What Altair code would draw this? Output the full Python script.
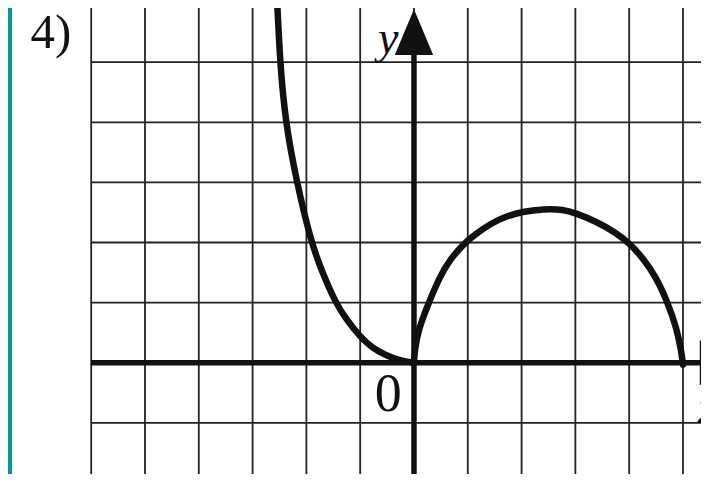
import altair as alt
import pandas as pd

TEAL = "#00999a"
INK = "#111111"
GRID = "#222222"
FONT = "Liberation Serif"

# grid lines (one unit per cell)
grid_x = [-6, -5, -4, -3, -2, -1, 0, 1, 2, 3, 4, 5]
grid_y = [-2, -1, 0, 1, 2, 3, 4, 5]

# left branch (top to origin)
left_x = [-2.56, -2.535, -2.49, -2.39, -2.18, -1.91, -1.72, -1.46, -1.25,
          -1.0, -0.78, -0.54, -0.25, 0.0]
left_y = [6.2, 5.89, 5.0, 4.0, 3.0, 2.0, 1.54, 1.0, 0.71,
          0.43, 0.25, 0.13, 0.03, 0.0]

# right arch (origin to x = 5)
right_x = [0.0, 0.0, 0.01, 0.08, 0.27, 0.48, 0.66, 0.95, 1.13, 1.43, 1.73, 2.0, 2.41, 2.78, 3.0,
           3.39, 3.76, 4.0, 4.26, 4.51, 4.72, 4.88, 4.97, 5.0, 5.0]
right_y = [0.0, 0.0, 0.18, 0.55, 0.99, 1.43, 1.71, 2.0, 2.13, 2.32, 2.44, 2.51, 2.56, 2.55, 2.49,
           2.35, 2.16, 1.99, 1.74, 1.41, 0.99, 0.58, 0.19, -0.03, -0.03]

XMIN, XMAX = -7.472, 5.335
YMIN, YMAX = -1.852, 5.902

xs = alt.Scale(domain=[XMIN, XMAX], nice=False, zero=False)
ys = alt.Scale(domain=[YMIN, YMAX], nice=False, zero=False)

def X(field="x"):
    return alt.X(f"{field}:Q", scale=xs, axis=None)

def Y(field="y"):
    return alt.Y(f"{field}:Q", scale=ys, axis=None)

vgrid = pd.DataFrame({"x": grid_x, "y": [-2.5] * len(grid_x), "y2": [6.5] * len(grid_x)})
hgrid = pd.DataFrame({"y": grid_y, "x": [-6] * len(grid_y), "x2": [6.5] * len(grid_y)})

vlines = alt.Chart(vgrid).mark_rule(color=GRID, strokeWidth=1.8, clip=True).encode(
    x=X(), y=Y(), y2="y2:Q")
hlines = alt.Chart(hgrid).mark_rule(color=GRID, strokeWidth=1.8, clip=True).encode(
    y=Y(), x=X(), x2="x2:Q")

xaxis = alt.Chart(pd.DataFrame({"x": [-6], "x2": [5.6], "y": [0]})).mark_rule(
    color=INK, strokeWidth=5.5, clip=True).encode(x=X(), x2="x2:Q", y=Y())
yaxis = alt.Chart(pd.DataFrame({"x": [0], "y": [-2.5], "y2": [5.45]})).mark_rule(
    color=INK, strokeWidth=5.5, clip=True).encode(x=X(), y=Y(), y2="y2:Q")

left = pd.DataFrame({"x": left_x, "y": left_y, "i": range(len(left_x))})
right = pd.DataFrame({"x": right_x, "y": right_y, "i": range(len(right_x))})

left_line = alt.Chart(left).mark_line(
    color=INK, strokeWidth=6.5, interpolate="basis", strokeCap="round", clip=True
).encode(x=X(), y=Y(), order="i:Q")
right_line = alt.Chart(right).mark_line(
    color=INK, strokeWidth=6.5, interpolate="basis", strokeCap="round", clip=True
).encode(x=X(), y=Y(), order="i:Q")

up_arrow = alt.Chart(pd.DataFrame({"x": [0], "y": [5.50]})).mark_point(
    shape="M0,-1L-0.84,1L0.84,1Z", size=2088, filled=True, color=INK, opacity=1,
    strokeWidth=0, clip=True).encode(x=X(), y=Y())
right_arrow = alt.Chart(pd.DataFrame({"x": [5.73], "y": [0.0]})).mark_point(
    shape="M1,0L-1,-1L-1,1Z", size=2025, filled=True, color=INK, opacity=1,
    strokeWidth=0, clip=True).encode(x=X(), y=Y())

label4 = alt.Chart(pd.DataFrame({"x": [-7.128], "y": [5.231], "t": ["4)"]})).mark_text(
    font=FONT, fontSize=49, color=INK, align="left", baseline="alphabetic"
).encode(x=X(), y=Y(), text="t:N")
label_y = alt.Chart(pd.DataFrame({"x": [-0.478], "y": [5.153], "t": ["y"]})).mark_text(
    font=FONT, fontSize=46, fontStyle="italic", color=INK, align="center", baseline="alphabetic"
).encode(x=X(), y=Y(), text="t:N")
label_0 = alt.Chart(pd.DataFrame({"x": [-0.478], "y": [-0.804], "t": ["0"]})).mark_text(
    font=FONT, fontSize=54, color=INK, align="center", baseline="alphabetic"
).encode(x=X(), y=Y(), text="t:N")
label_x = alt.Chart(pd.DataFrame({"x": [5.279], "y": [-1.003], "t": ["x"]})).mark_text(
    font=FONT, fontSize=46, fontStyle="italic", color=INK, align="left", baseline="alphabetic",
    clip=True
).encode(x=X(), y=Y(), text="t:N")

chart = alt.layer(
    vlines, hlines, xaxis, yaxis, left_line, right_line, up_arrow, right_arrow,
    label4, label_y, label_0, label_x
).properties(
    width=689, height=466,
    padding={"left": 4, "top": 0, "right": 0, "bottom": 0},
    autosize="none",
    background=TEAL,
).configure_view(fill="white", strokeWidth=0)

chart.save("out.html", embed_options={"renderer": "svg", "actions": False})
